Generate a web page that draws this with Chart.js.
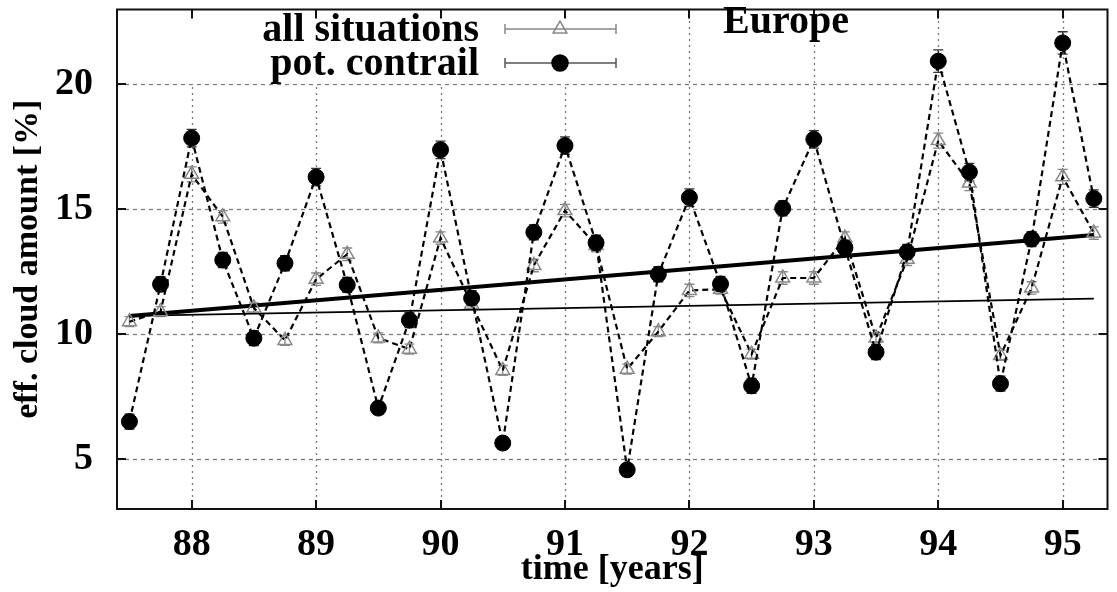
<!DOCTYPE html>
<html>
<head>
<meta charset="utf-8">
<script src="https://cdn.jsdelivr.net/npm/chart.js@4.4.1/dist/chart.umd.min.js"></script>
<style>
  html, body { margin: 0; padding: 0; background: #fff; }
  #wrap { width: 1117px; height: 592px; }
</style>
</head>
<body>
<div id="wrap"><canvas id="c" width="1117" height="592"></canvas></div>
<script>
// ---------------- data ----------------
const times = [87.5, 87.75, 88.0, 88.25, 88.5, 88.75, 89.0, 89.25, 89.5, 89.75,
               90.0, 90.25, 90.5, 90.75, 91.0, 91.25, 91.5, 91.75, 92.0, 92.25,
               92.5, 92.75, 93.0, 93.25, 93.5, 93.75, 94.0, 94.25, 94.5, 94.75,
               95.0, 95.25];
const allSituations = [10.5, 10.9, 16.4, 14.7, 11.05, 9.75, 12.2, 13.2, 9.85, 9.4,
                       13.85, 11.2, 8.55, 12.75, 14.95, 13.55, 8.6, 10.1, 11.75, 11.8,
                       9.2, 12.25, 12.25, 13.85, 9.85, 13.0, 17.75, 16.05, 9.15, 11.85,
                       16.3, 14.05];
const allSituationsErr = [0.2, 0.2, 0.3, 0.25, 0.2, 0.2, 0.25, 0.25, 0.2, 0.2,
                          0.25, 0.2, 0.2, 0.25, 0.25, 0.25, 0.2, 0.2, 0.25, 0.2,
                          0.2, 0.25, 0.25, 0.25, 0.2, 0.25, 0.3, 0.3, 0.2, 0.25,
                          0.3, 0.25];
const potContrail = [6.5, 12.0, 17.85, 12.97, 9.84, 12.84, 16.29, 11.97, 7.04, 10.56,
                     17.38, 11.44, 5.64, 14.08, 17.55, 13.66, 4.57, 12.4, 15.47, 12.01,
                     7.93, 15.04, 17.8, 13.46, 9.28, 13.29, 20.93, 16.49, 8.02, 13.81,
                     21.66, 15.43];
const potContrailErr = [0.3, 0.3, 0.35, 0.3, 0.3, 0.3, 0.35, 0.3, 0.25, 0.3,
                        0.35, 0.3, 0.25, 0.3, 0.35, 0.3, 0.25, 0.3, 0.35, 0.3,
                        0.3, 0.3, 0.35, 0.3, 0.3, 0.3, 0.45, 0.35, 0.3, 0.3,
                        0.45, 0.35];
const trendTimes = [87.5, 95.25];
const trendContrail = [10.73, 13.97];
const trendAll = [10.73, 11.42];
const xTicks = [88, 89, 90, 91, 92, 93, 94, 95];
const yTicks = [5, 10, 15, 20];
const seriesNames = ['all situations', 'pot. contrail'];
const chartTitle = 'Europe';
const xTitle = 'time [years]';
const yTitle = 'eff. cloud amount [%]';

// ---------------- styling ----------------
const SERIF = '"Liberation Serif", "Times New Roman", serif';
const pts = (xs, ys) => xs.map((v, i) => ({ x: v, y: ys[i] }));

const decorations = {
  id: 'decorations',
  beforeDatasetsDraw(chart) {
    const { ctx, chartArea: a, scales: { x, y } } = chart;
    ctx.save();
    // grid
    ctx.strokeStyle = '#7a7a7a';
    ctx.lineWidth = 1.3;
    ctx.setLineDash([4, 4]);
    yTicks.forEach(v => {
      const py = Math.round(y.getPixelForValue(v)) + 0.5;
      ctx.beginPath(); ctx.moveTo(a.left, py); ctx.lineTo(a.right, py); ctx.stroke();
    });
    ctx.setLineDash([2, 4]);
    xTicks.forEach(v => {
      const px = Math.round(x.getPixelForValue(v)) + 0.5;
      ctx.beginPath(); ctx.moveTo(px, a.bottom); ctx.lineTo(px, a.top); ctx.stroke();
    });
    ctx.setLineDash([]);
    // key box (white, hides grid)
    ctx.fillStyle = '#fff';
    ctx.fillRect(143, a.top + 1, 639 - 143, 83 - a.top);
    // error bars
    const bars = (ys, errs, color) => {
      ctx.strokeStyle = color; ctx.lineWidth = 1.3;
      times.forEach((t, i) => {
        const px = x.getPixelForValue(t);
        const y0 = y.getPixelForValue(ys[i] - errs[i]);
        const y1 = y.getPixelForValue(ys[i] + errs[i]);
        ctx.beginPath();
        ctx.moveTo(px, y0); ctx.lineTo(px, y1);
        ctx.moveTo(px - 5, y0); ctx.lineTo(px + 5, y0);
        ctx.moveTo(px - 5, y1); ctx.lineTo(px + 5, y1);
        ctx.stroke();
      });
    };
    bars(allSituations, allSituationsErr, '#888');
    bars(potContrail, potContrailErr, '#333');
    ctx.restore();
  },
  afterDatasetsDraw(chart) {
    const { ctx, chartArea: a, scales: { x, y } } = chart;
    ctx.save();
    // frame
    ctx.strokeStyle = '#111';
    ctx.lineWidth = 2;
    ctx.strokeRect(a.left, a.top, a.right - a.left, a.bottom - a.top);
    // inward ticks on all sides
    ctx.lineWidth = 2;
    const TL = 9;
    xTicks.forEach(v => {
      const px = Math.round(x.getPixelForValue(v));
      ctx.beginPath();
      ctx.moveTo(px, a.bottom); ctx.lineTo(px, a.bottom - TL);
      ctx.moveTo(px, a.top); ctx.lineTo(px, a.top + TL);
      ctx.stroke();
    });
    yTicks.forEach(v => {
      const py = Math.round(y.getPixelForValue(v));
      ctx.beginPath();
      ctx.moveTo(a.left, py); ctx.lineTo(a.left + TL, py);
      ctx.moveTo(a.right, py); ctx.lineTo(a.right - TL, py);
      ctx.stroke();
    });
    // key
    ctx.font = 'bold 40px ' + SERIF;
    ctx.fillStyle = '#000';
    ctx.textAlign = 'right';
    ctx.textBaseline = 'alphabetic';
    ctx.fillText(seriesNames[0], 479, 41);
    ctx.fillText(seriesNames[1], 479, 75);
    const sample = (yy, color) => {
      ctx.strokeStyle = color; ctx.lineWidth = 1.5;
      ctx.beginPath();
      ctx.moveTo(505, yy); ctx.lineTo(616, yy);
      ctx.moveTo(505, yy - 5); ctx.lineTo(505, yy + 5);
      ctx.moveTo(616, yy - 5); ctx.lineTo(616, yy + 5);
      ctx.stroke();
    };
    sample(29, '#888');
    sample(63, '#555');
    ctx.strokeStyle = '#888';
    ctx.fillStyle = 'rgba(0,0,0,0)';
    Chart.helpers.drawPoint(ctx, { pointStyle: 'triangle', radius: 8, borderWidth: 1.5, rotation: 0 }, 560, 29);
    ctx.fillStyle = '#000'; ctx.strokeStyle = '#000';
    Chart.helpers.drawPoint(ctx, { pointStyle: 'circle', radius: 8, borderWidth: 1, rotation: 0 }, 560, 63);
    // title inside
    ctx.fillStyle = '#000';
    ctx.textAlign = 'center';
    ctx.font = 'bold 40px ' + SERIF;
    ctx.fillText(chartTitle, 786, 33);
    ctx.restore();
  }
};

new Chart(document.getElementById('c'), {
  type: 'line',
  data: {
    datasets: [
      {
        label: seriesNames[1],
        data: pts(times, potContrail),
        borderColor: '#000', borderWidth: 2.2, borderDash: [6, 4],
        pointStyle: 'circle', pointRadius: 8,
        pointBackgroundColor: '#000', pointBorderColor: '#000', pointBorderWidth: 1,
        fill: false, tension: 0, order: 1
      },
      {
        label: seriesNames[0],
        data: pts(times, allSituations),
        borderColor: '#000', borderWidth: 2.2, borderDash: [6, 4],
        pointStyle: 'triangle', pointRadius: 8,
        pointBackgroundColor: 'rgba(255,255,255,0)', pointBorderColor: '#888', pointBorderWidth: 1.5,
        fill: false, tension: 0, order: 2
      },
      {
        label: 'trend pot. contrail',
        data: pts(trendTimes, trendContrail),
        borderColor: '#000', borderWidth: 4, pointRadius: 0,
        fill: false, tension: 0, order: 3
      },
      {
        label: 'trend all situations',
        data: pts(trendTimes, trendAll),
        borderColor: '#000', borderWidth: 1.8, pointRadius: 0,
        fill: false, tension: 0, order: 4
      }
    ]
  },
  options: {
    responsive: false,
    animation: false,
    devicePixelRatio: 1,
    layout: { padding: { top: 3, right: 6, left: 0, bottom: 0 } },
    plugins: { legend: { display: false }, tooltip: { enabled: false } },
    scales: {
      x: {
        type: 'linear', min: 87.4, max: 95.36,
        afterBuildTicks: s => { s.ticks = xTicks.map(v => ({ value: v })); },
        afterFit: s => { s.height = 83; s.paddingLeft = 0; s.paddingRight = 0; },
        grid: { display: false, drawTicks: false },
        border: { display: false },
        ticks: { color: '#000', padding: 13, maxRotation: 0, autoSkip: false,
                 font: { family: SERIF, size: 38, weight: 'bold' } },
        title: { display: true, text: xTitle, color: '#000', padding: { top: 0, bottom: 1 },
                 font: { family: SERIF, size: 36, weight: 'bold', lineHeight: 1.2 } }
      },
      y: {
        type: 'linear', min: 3, max: 23,
        afterBuildTicks: s => { s.ticks = yTicks.map(v => ({ value: v })); },
        afterFit: s => { s.width = 117; s.paddingTop = 0; s.paddingBottom = 0; },
        grid: { display: false, drawTicks: false },
        border: { display: false },
        ticks: { color: '#000', padding: 24,
                 font: { family: SERIF, size: 38, weight: 'bold' } },
        title: { display: true, text: yTitle, color: '#000', padding: { top: 8, bottom: 0 },
                 font: { family: SERIF, size: 34, weight: 'bold', lineHeight: 1.2 } }
      }
    }
  },
  plugins: [decorations]
});
</script>
</body>
</html>
